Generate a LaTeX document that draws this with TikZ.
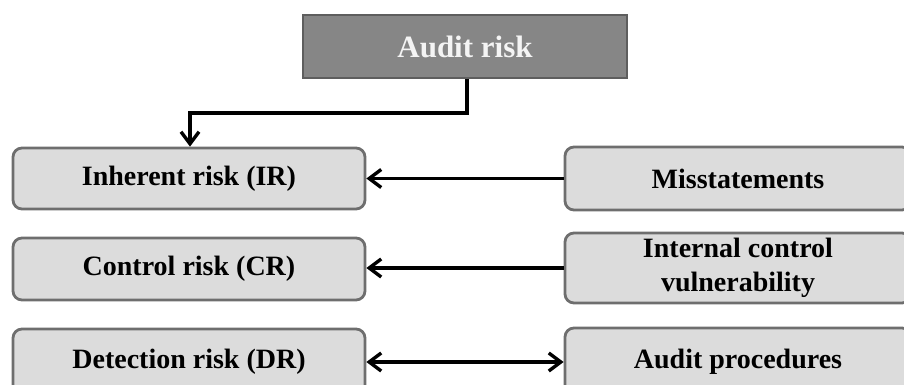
\documentclass[tikz,border=0pt]{standalone}
\usepackage{fontspec}
\setmainfont{Liberation Serif}
\usetikzlibrary{arrows.meta}
\definecolor{darkbox}{HTML}{868686}
\definecolor{darkedge}{HTML}{5E5E5E}
\definecolor{lightbox}{HTML}{DCDCDC}
\definecolor{lightedge}{HTML}{6E6E6E}
\definecolor{paletext}{HTML}{F4F4F4}
\begin{document}
\begin{tikzpicture}[x=1pt,y=-1pt,
  topbox/.style={draw=darkedge, fill=darkbox, line width=2.8pt, inner sep=0pt,
    minimum width=324pt, minimum height=63pt, text=paletext,
    font=\fontsize{31}{34}\selectfont\bfseries},
  riskbox/.style={draw=lightedge, fill=lightbox, line width=2.8pt, rounded corners=9pt,
    inner sep=0pt, minimum width=352pt, align=center,
    font=\fontsize{28}{34}\selectfont\bfseries},
  link/.style={line width=3.4pt, -{Straight Barb[length=12pt,width=18pt,line width=3.4pt]}},
  dlink/.style={line width=3.4pt, {Straight Barb[length=12pt,width=18pt,line width=3.4pt]}-{Straight Barb[length=12pt,width=18pt,line width=3.4pt]}}
]
\useasboundingbox (0,0) rectangle (904,385);
\clip (0,0) rectangle (904,385);
\node[topbox] (audit) at (465,46.5) {Audit risk};
\node[riskbox, minimum height=61pt] (ir) at (189,178.5) {Inherent risk (IR)};
\node[riskbox, minimum height=62pt] (cr) at (189,269) {Control risk (CR)};
\node[riskbox, minimum height=66pt] (dr) at (189,362) {Detection risk (DR)};
\node[riskbox, minimum width=346pt, minimum height=63pt] (ms) at (738,178.5) {Misstatements};
\node[riskbox, minimum width=346pt, minimum height=70pt] (ic) at (738,268) {Internal control\\vulnerability};
\node[riskbox, minimum width=346pt, minimum height=68pt] (ap) at (738,362) {Audit procedures};
\coordinate (bend1) at (467,113);
\coordinate (bend2) at (190,113);
\draw[link] (audit.south -| bend1) -- (bend1) -- (bend2) -- (ir.north -| bend2);
\draw[link] (ms.west) -- (ir.east);
\draw[link] (ic.west) -- (cr.east |- ic.west);
\draw[dlink] (dr.east) -- (ap.west);
\end{tikzpicture}
\end{document}
